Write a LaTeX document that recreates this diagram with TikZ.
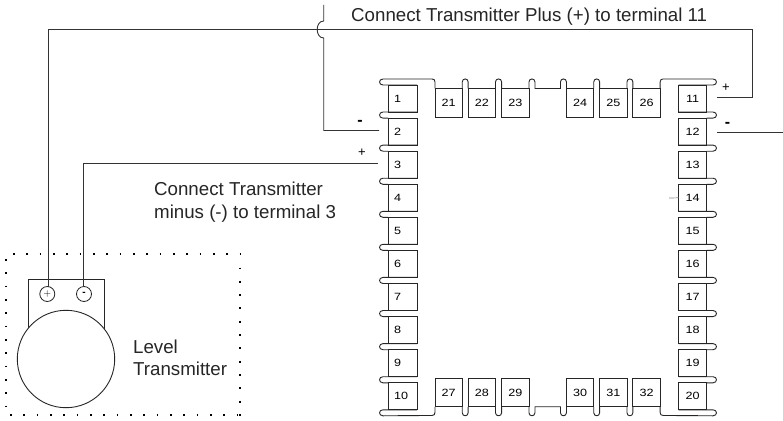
\documentclass[tikz,border=0pt]{standalone}
\usepackage{fontspec}
\setmainfont{Liberation Sans}
\newfontfamily\numfont[FakeStretch=1.2]{Liberation Sans}
\usetikzlibrary{calc}
\tikzset{
termbox/.style={draw=black!85,line width=.9pt,outer sep=0pt,inner sep=0pt,font=\numfont\fontsize{10.5}{12}\selectfont},
leftbox/.style={termbox,minimum height=27pt,text width=17pt,inner xsep=6pt,align=left},
rightbox/.style={termbox,minimum height=27pt,minimum width=28.2pt},
topbox/.style={termbox,minimum height=28.5pt,minimum width=27.3pt},
shell/.style={black!85,line width=.9pt},
wire/.style={black!80,line width=1.1pt},
dotline/.style={line width=1.7pt,dash pattern=on 1.7pt off 11.63pt},
caption/.style={font=\fontsize{18.7}{22}\selectfont,text=black!85,inner sep=0pt,anchor=base west}
}
\begin{document}
\begin{tikzpicture}[x=1pt,y=-1pt]
\useasboundingbox (0,0) rectangle (783,420);
\fill[white] (0,0) rectangle (783,420);
%terminal strip
\foreach \n/\y in {1/98.5,2/131.6,3/164.7,4/197.8,5/230.8,6/263.9,7/297,8/330.1,9/363.2,10/396.3} {
\node[leftbox] (b\n) at (402.5,\y) {\n};
}
\foreach \n/\y in {11/98.5,12/131.6,13/164.7,14/197.8,15/230.8,16/263.9,17/297,18/330.1,19/363.2,20/396.3} {
\node[rightbox] (b\n) at (692.6,\y) {\n};
}
\foreach \n/\x in {21/448.6,22/481.8,23/515.3,24/580.1,25/613.3,26/646.5} {
\node[topbox] (b\n) at (\x,102.7) {\n};
}
\foreach \n/\x in {27/448.6,28/481.8,29/515.3,30/580.1,31/613.3,32/646.5} {
\node[topbox] (b\n) at (\x,392.5) {\n};
}
%hooks between the terminals
\foreach \a/\b in {1/2,2/3,3/4,4/5,5/6,6/7,7/8,8/9,9/10} {
\draw[shell] (b\a.south east) -- ++(-34,0) .. controls +(-4.6,0) and +(-4.6,0) .. ($(b\b.north west)+(-5,0)$) -- (b\b.north west);
}
\foreach \a/\b in {11/12,12/13,13/14,14/15,15/16,16/17,17/18,18/19,19/20} {
\draw[shell] (b\a.south west) -- ++(34.5,0) .. controls +(4.6,0) and +(4.6,0) .. ($(b\b.north east)+(6.3,0)$) -- (b\b.north east);
}
\foreach \a/\b in {21/22,22/23,24/25,25/26} {
\draw[shell] (b\a.north east) -- ++(0,-6.5) .. controls +(0,-4) and +(0,-4) .. ($(b\b.north west)+(0,-6.5)$) -- (b\b.north west);
}
\foreach \a/\b in {27/28,28/29,30/31,31/32} {
\draw[shell] (b\a.south east) -- ++(0,6) .. controls +(0,4) and +(0,4) .. ($(b\b.south west)+(0,6)$) -- (b\b.south west);
}
%corners of the strip
\draw[shell] (b1.north east) -- ($(b1.north west)+(-5,0)$) .. controls +(-4.6,0) and +(-4.6,0) .. ($(b1.north west)+(-5,-6)$) -- ($(b21.north west)+(-3,-9.5)$) .. controls +(2,0) and +(0,-2) .. ($(b21.north west)+(0,-6.5)$) -- (b21.north west);
\draw[shell] (b23.north east) -- ++(0,-6.5) .. controls +(0,-4) and +(0,-4) .. ($(b23.north east)+(6,-6.5)$) -- ($(b23.north east)+(6,0)$) -- ($(b24.north west)+(-6,0)$) -- ++(0,-6.5) .. controls +(0,-4) and +(0,-4) .. ($(b24.north west)+(0,-6.5)$) -- (b24.north west);
\draw[shell] (b26.north east) -- ++(0,-6.5) .. controls +(0,-2) and +(-2,0) .. ($(b26.north east)+(3,-9.5)$) -- ($(b11.north east)+(6.3,-6)$) .. controls +(4.6,0) and +(4.6,0) .. ($(b11.north east)+(6.3,0)$) -- (b11.north west);
\draw[shell] (b10.south east) -- ($(b10.south west)+(-5,0)$) .. controls +(-4.6,0) and +(-4.6,0) .. ($(b10.south west)+(-5,6)$) -- ($(b27.south west)+(-3,8.7)$) .. controls +(2,0) and +(0,2) .. ($(b27.south west)+(0,5.7)$) -- (b27.south west);
\draw[shell] (b29.south east) -- ++(0,6) .. controls +(0,4) and +(0,4) .. ($(b29.south east)+(6,6)$) -- ($(b29.south east)+(6,0)$) -- ($(b30.south west)+(-6,0)$) -- ++(0,6) .. controls +(0,4) and +(0,4) .. ($(b30.south west)+(0,6)$) -- (b30.south west);
\draw[shell] (b32.south east) -- ++(0,5.7) .. controls +(0,2) and +(-2,0) .. ($(b32.south east)+(3,8.7)$) -- ($(b20.south east)+(6.3,6)$) .. controls +(4.6,0) and +(4.6,0) .. ($(b20.south east)+(6.3,0)$) -- (b20.south west);
%level transmitter
\node[draw=black!85,line width=1pt,outer sep=0pt,minimum width=76pt,minimum height=60pt] (head) at (66,309.7) {};
\node[draw=black!85,fill=white,line width=.9pt,circle,outer sep=0pt,inner sep=0pt,minimum size=97.4pt] (sensor) at (66,359) {};
\node[draw=black!85,circle,line width=.8pt,outer sep=0pt,inner sep=0pt,minimum size=15pt] (tplus) at (47.3,294) {$+$};
\node[draw=black!85,circle,line width=.8pt,outer sep=0pt,inner sep=0pt,minimum size=15pt] (tminus) at (84,294) {\textbf{-}};
\draw[dotline] (13,254) -- (241,254);
\draw[dotline] (240,267.5) -- (240,416);
\draw[dotline] (6,259) -- (6,408);
\draw[dotline] (10,415) -- (241,415);
%wires
\coordinate (wtop) at (323.7,5);
\coordinate (jump) at (323.7,21);
\coordinate (land) at (323.7,38);
\coordinate (w2) at (379,130.5);
\coordinate (w3) at (378,163.5);
\coordinate (w11) at (717,97.5);
\coordinate (w12) at (717,132.5);
\coordinate (wout) at (783,132.5);
\coordinate (w14) at (669,198);
\coordinate (bend) at (752.5,29.5);
\draw[wire] (tplus.78) |- (bend) |- (w11);
\draw[wire,line width=.9pt] (tminus.93) |- (w3);
\draw[wire,line width=.9pt] (wtop) -- (jump) .. controls +(-8.7,0) and +(-8.7,0) .. (land) |- (w2);
\draw[wire,line width=.9pt] (w12) -- (wout);
\draw[black!45,line width=.7pt] (w14) -- (b14.west);
%labels
\node[caption] (plustext) at (351,21.7) {Connect Transmitter Plus (+) to terminal 11};
\node[caption] (minustext) at (154,195) {Connect Transmitter};
\node[caption] (minustextb) at (154,218) {minus (-) to terminal 3};
\node[caption] (leveltext) at (133,353) {Level};
\node[caption] (transtext) at (133,375.7) {Transmitter};
\node[inner sep=0pt,font=\fontsize{16}{18}\selectfont] (signa) at (360,123) {\textbf{-}};
\node[inner sep=0pt,font=\fontsize{13}{15}\selectfont] (signb) at (362,153) {+};
\node[inner sep=0pt,font=\fontsize{13}{15}\selectfont] (signc) at (726,88) {+};
\node[inner sep=0pt,font=\fontsize{16}{18}\selectfont] (signd) at (727.5,124.5) {\textbf{-}};
\end{tikzpicture}
\end{document}
